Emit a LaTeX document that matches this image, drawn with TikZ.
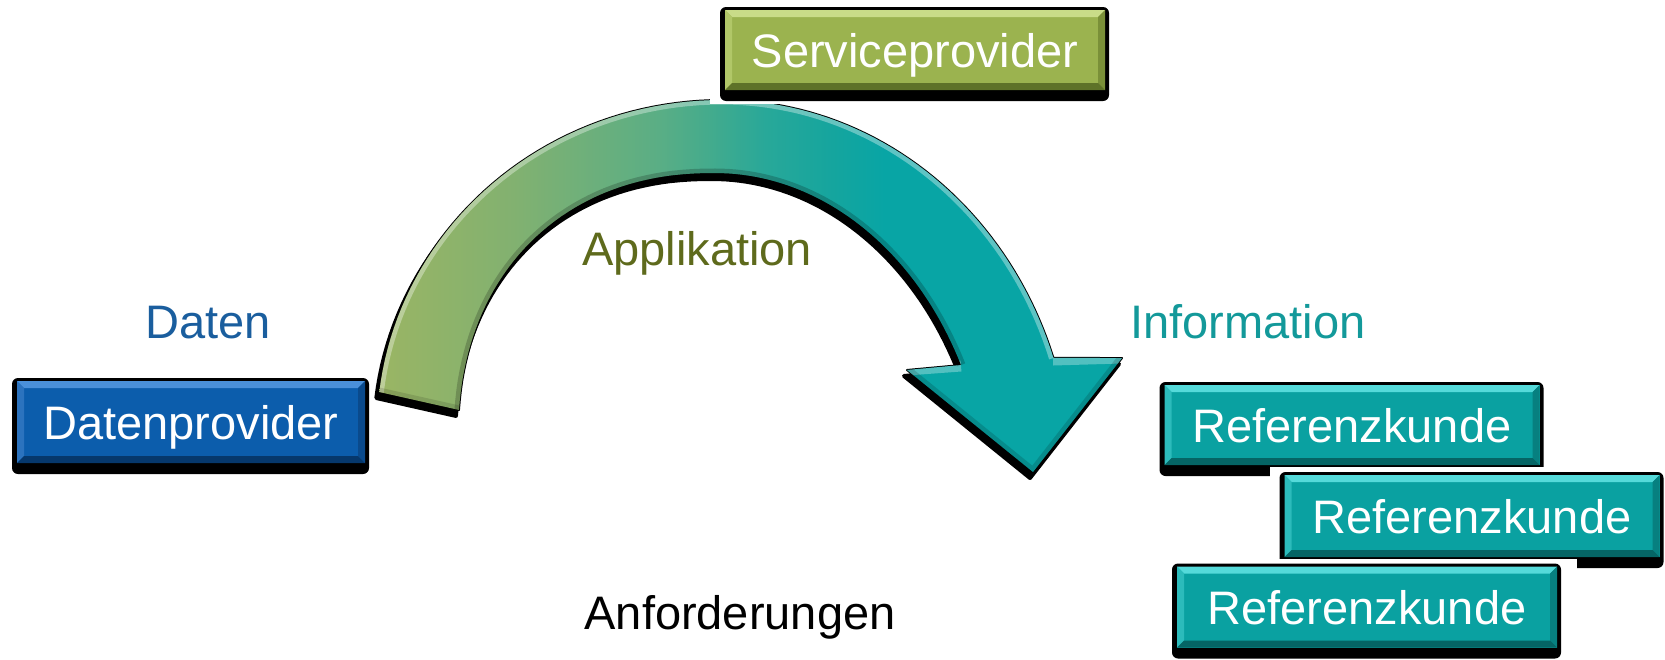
\documentclass[tikz,border=0pt]{standalone}
\usepackage{fontspec}
\setmainfont{Liberation Sans}
\definecolor{dpface}{HTML}{0C5DAC}
\definecolor{dptop}{HTML}{4A90D9}
\definecolor{dpleft}{HTML}{2C73BE}
\definecolor{dpright}{HTML}{0A4A8C}
\definecolor{dpbot}{HTML}{06386C}
\definecolor{spface}{HTML}{9BB34F}
\definecolor{sptop}{HTML}{C9DC88}
\definecolor{spleft}{HTML}{B1C768}
\definecolor{spright}{HTML}{7A9038}
\definecolor{spbot}{HTML}{5E7228}
\definecolor{rkface}{HTML}{0AA1A1}
\definecolor{rktop}{HTML}{55DADA}
\definecolor{rkleft}{HTML}{2CBBBB}
\definecolor{rkright}{HTML}{078080}
\definecolor{rkbot}{HTML}{056565}
\definecolor{arrA}{HTML}{9AB564}
\definecolor{arrB}{HTML}{82B170}
\definecolor{arrC}{HTML}{5AAE85}
\definecolor{arrD}{HTML}{45AB8C}
\definecolor{arrE}{HTML}{28A899}
\definecolor{arrF}{HTML}{15A59E}
\definecolor{arrG}{HTML}{08A5A5}
\definecolor{datenc}{HTML}{1A5E9E}
\definecolor{applc}{HTML}{5E6A1C}
\definecolor{infoc}{HTML}{13999A}

\pgfdeclarehorizontalshading{arrowshade}{100bp}{color(0bp)=(arrA); color(25bp)=(arrA);
  color(34bp)=(arrB); color(43.8bp)=(arrC); color(47bp)=(arrD); color(51bp)=(arrE);
  color(55.5bp)=(arrF); color(59bp)=(arrG); color(100bp)=(arrG)}

\newcommand\mybevel[4]{%
 \path (path picture bounding box.north west) coordinate (bnw)
       (path picture bounding box.north east) coordinate (bne)
       (path picture bounding box.south west) coordinate (bsw)
       (path picture bounding box.south east) coordinate (bse);
 \path ([xshift=7pt,yshift=-7pt]bnw) coordinate (inw)
       ([xshift=-7pt,yshift=-7pt]bne) coordinate (ine)
       ([xshift=7pt,yshift=7pt]bsw) coordinate (isw)
       ([xshift=-7pt,yshift=7pt]bse) coordinate (ise);
 \fill[#1] (bnw) -- (bne) -- (ine) -- (inw) -- cycle;
 \fill[#2] (bnw) -- (inw) -- (isw) -- (bsw) -- cycle;
 \fill[#3] (bne) -- (bse) -- (ise) -- (ine) -- cycle;
 \fill[#4] (bsw) -- (isw) -- (ise) -- (bse) -- cycle;
}

% #1 name, #2 x, #3 y, #4 w, #5 h, #6 style, #7 text
\newcommand\drawbtn[7]{%
 \fill[white] (#2-#4/2-15, #3-#5/2-8) rectangle (#2+#4/2+20, #3+#5/2+14);
 \fill[black, rounded corners=6] (#2-#4/2-5, #3-#5/2-3) rectangle (#2+#4/2+4, #3+#5/2+11);
 \node[#6, minimum width=#4pt, minimum height=#5pt] (#1) at (#2,#3) {#7};
}

\tikzset{
 btn/.style={inner sep=0pt, text=white, font=\fontsize{47}{56}\selectfont,
   text height=34pt, text depth=0pt},
 dpbtn/.style={btn, fill=dpface, path picture={\mybevel{dptop}{dpleft}{dpright}{dpbot}}},
 spbtn/.style={btn, fill=spface, path picture={\mybevel{sptop}{spleft}{spright}{spbot}}},
 rkbtn/.style={btn, fill=rkface, path picture={\mybevel{rktop}{rkleft}{rkright}{rkbot}}},
 lbl/.style={inner sep=0pt, font=\fontsize{47}{56}\selectfont, anchor=base},
}

\begin{document}
\begin{tikzpicture}[x=1pt, y=-1pt]
\useasboundingbox (0,0) rectangle (1665,659);
\fill[white] (0,0) rectangle (1665,659);

% Datenprovider
\drawbtn{dp}{191}{422}{348}{82}{dpbtn}{Datenprovider}

% big curved arrow
\def\outercurve{plot[domain=186.61:270, samples=45, variable=\t] ({722+345*cos(\t)},{430+330*sin(\t)})
  -- plot[domain=270:341.27, samples=45, variable=\t] ({722+350*cos(\t)},{480+380*sin(\t)})}
\def\innercurve{plot[domain=333.47:270, samples=45, variable=\t] ({715+275*cos(\t)},{520+347*sin(\t)})
  -- plot[domain=89.99:5.18, samples=45, variable=\u] ({715-257*abs(cos(\u))^0.909},{440-267*abs(sin(\u))^0.909})}
\def\arrowpath{plot[domain=186.61:270, samples=45, variable=\t] ({722+345*cos(\t)},{430+330*sin(\t)})
  -- plot[domain=270:341.27, samples=45, variable=\t] ({722+350*cos(\t)},{480+380*sin(\t)})
  -- (1122,358) -- (1033,472) -- (907,370) --
  plot[domain=333.47:270, samples=45, variable=\t] ({715+275*cos(\t)},{520+347*sin(\t)})
  -- plot[domain=89.99:5.18, samples=45, variable=\u] ({715-257*abs(cos(\u))^0.909},{440-267*abs(sin(\u))^0.909})
  -- cycle}
\begin{scope}[shift={(-3,6)}]
 \fill[black] \arrowpath;
 \draw[black, line width=4pt, line join=round] \arrowpath;
\end{scope}
\draw[black, line width=2pt, line join=round] \arrowpath;
\path[shading=arrowshade] \arrowpath;
% bevel effects on the arrow
\begin{scope}
 \clip \arrowpath;
 \draw[white, opacity=0.35, line width=9pt] \outercurve;
 \draw[black, opacity=0.2, line width=9pt] \innercurve;
 \draw[white, opacity=0.3, line width=11pt] (907,370) -- (961,366);
 \draw[white, opacity=0.3, line width=11pt] (1053,360) -- (1122,358);
 \draw[black, opacity=0.15, line width=9pt] (1122,358) -- (1033,472) -- (907,370);
 \draw[black, opacity=0.12, line width=9pt] (379,392) -- (459,410);
\end{scope}

% Serviceprovider
\drawbtn{sp}{915}{50}{380}{80}{spbtn}{Serviceprovider}

% Referenzkunden
\drawbtn{rka}{1352}{425}{375}{80}{rkbtn}{Referenzkunde}
\drawbtn{rkb}{1472}{516}{375}{82}{rkbtn}{Referenzkunde}
\drawbtn{rkc}{1367}{607}{380}{81}{rkbtn}{Referenzkunde}

% labels
\node[lbl, text=datenc] (daten) at (208,338) {Daten};
\node[lbl, text=applc] (appl) at (697,265) {Applikation};
\node[lbl, text=infoc] (info) at (1248,338) {Information};
\node[lbl, text=black] (anf) at (740,629) {Anforderungen};
\end{tikzpicture}
\end{document}
